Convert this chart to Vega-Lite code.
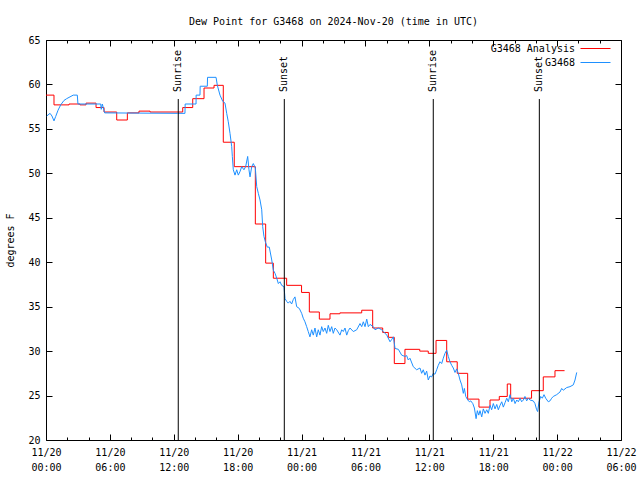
{
"$schema": "https://vega.github.io/schema/vega-lite/v6.json",
"width": 575, "height": 400,
"autosize": {"type": "none"},
"padding": {"left": 46, "top": 40, "right": 19, "bottom": 40},
"background": "white",
"config": {
 "view": {"stroke": "black", "strokeWidth": 1},
 "font": "DejaVu Sans Mono",
 "axis": {"domain": false, "grid": false, "tickColor": "black", "tickWidth": 1, "labelColor": "black", "labelFont": "DejaVu Sans Mono", "labelFontSize": 10, "titleFont": "DejaVu Sans Mono", "titleFontSize": 10, "titleFontWeight": "normal", "titleColor": "black"}
},
"title": {"text": "Dew Point for G3468 on 2024-Nov-20 (time in UTC)", "font": "DejaVu Sans Mono", "fontSize": 10, "fontWeight": "normal", "color": "black", "offset": 8},
"datasets": {
 "analysis": [
  {"h":0,"v":58.8,"series":"G3468 Analysis"},{"h":0.75,"v":57.7,"series":"G3468 Analysis"},{"h":2.16,"v":57.8,"series":"G3468 Analysis"},{"h":3.19,"v":57.7,"series":"G3468 Analysis"},{"h":3.76,"v":57.9,"series":"G3468 Analysis"},{"h":4.7,"v":57.4,"series":"G3468 Analysis"},{"h":5.45,"v":56.9,"series":"G3468 Analysis"},{"h":6.64,"v":56.0,"series":"G3468 Analysis"},{"h":7.64,"v":56.8,"series":"G3468 Analysis"},{"h":8.73,"v":57.0,"series":"G3468 Analysis"},{"h":9.77,"v":56.9,"series":"G3468 Analysis"},{"h":12.84,"v":57.4,"series":"G3468 Analysis"},{"h":13.78,"v":58.4,"series":"G3468 Analysis"},{"h":14.84,"v":59.6,"series":"G3468 Analysis"},{"h":15.78,"v":59.9,"series":"G3468 Analysis"},{"h":16.65,"v":53.5,"series":"G3468 Analysis"},{"h":17.68,"v":50.75,"series":"G3468 Analysis"},{"h":19.66,"v":44.3,"series":"G3468 Analysis"},{"h":20.63,"v":39.9,"series":"G3468 Analysis"},{"h":21.35,"v":38.2,"series":"G3468 Analysis"},{"h":22.6,"v":37.4,"series":"G3468 Analysis"},{"h":24.0,"v":36.6,"series":"G3468 Analysis"},{"h":24.73,"v":34.4,"series":"G3468 Analysis"},{"h":25.67,"v":33.6,"series":"G3468 Analysis"},{"h":26.67,"v":34.2,"series":"G3468 Analysis"},{"h":27.6,"v":34.3,"series":"G3468 Analysis"},{"h":29.65,"v":34.6,"series":"G3468 Analysis"},{"h":30.68,"v":32.6,"series":"G3468 Analysis"},{"h":31.62,"v":32.1,"series":"G3468 Analysis"},{"h":32.15,"v":31.55,"series":"G3468 Analysis"},{"h":32.71,"v":28.6,"series":"G3468 Analysis"},{"h":33.71,"v":30.2,"series":"G3468 Analysis"},{"h":35.1,"v":30.0,"series":"G3468 Analysis"},{"h":35.9,"v":29.75,"series":"G3468 Analysis"},{"h":36.63,"v":31.2,"series":"G3468 Analysis"},{"h":37.63,"v":28.8,"series":"G3468 Analysis"},{"h":38.62,"v":27.5,"series":"G3468 Analysis"},{"h":39.6,"v":24.6,"series":"G3468 Analysis"},{"h":40.66,"v":23.7,"series":"G3468 Analysis"},{"h":41.7,"v":24.5,"series":"G3468 Analysis"},{"h":42.57,"v":24.9,"series":"G3468 Analysis"},{"h":43.32,"v":26.3,"series":"G3468 Analysis"},{"h":43.64,"v":24.7,"series":"G3468 Analysis"},{"h":45.6,"v":25.55,"series":"G3468 Analysis"},{"h":46.7,"v":27.1,"series":"G3468 Analysis"},{"h":47.8,"v":27.8,"series":"G3468 Analysis"},{"h":48.7,"v":27.8,"series":"G3468 Analysis"}
 ],
 "obs": [
  {"h":0.07,"v":56.45,"series":"G3468"},{"h":0.38,"v":56.75,"series":"G3468"},{"h":0.56,"v":56.45,"series":"G3468"},{"h":0.75,"v":55.9,"series":"G3468"},{"h":0.91,"v":56.4,"series":"G3468"},{"h":1.13,"v":57.1,"series":"G3468"},{"h":1.38,"v":57.7,"series":"G3468"},{"h":1.69,"v":58.2,"series":"G3468"},{"h":1.94,"v":58.4,"series":"G3468"},{"h":2.56,"v":58.8,"series":"G3468"},{"h":2.94,"v":58.8,"series":"G3468"},{"h":3.0,"v":57.8,"series":"G3468"},{"h":5.14,"v":57.8,"series":"G3468"},{"h":5.19,"v":57.2,"series":"G3468"},{"h":5.29,"v":57.8,"series":"G3468"},{"h":5.51,"v":56.8,"series":"G3468"},{"h":12.33,"v":56.75,"series":"G3468"},{"h":13.05,"v":56.75,"series":"G3468"},{"h":13.07,"v":57.8,"series":"G3468"},{"h":14.09,"v":57.8,"series":"G3468"},{"h":14.1,"v":58.8,"series":"G3468"},{"h":14.46,"v":58.8,"series":"G3468"},{"h":14.48,"v":59.8,"series":"G3468"},{"h":15.15,"v":59.8,"series":"G3468"},{"h":15.17,"v":60.8,"series":"G3468"},{"h":15.97,"v":60.8,"series":"G3468"},{"h":16.09,"v":59.9,"series":"G3468"},{"h":16.34,"v":58.8,"series":"G3468"},{"h":16.6,"v":58.1,"series":"G3468"},{"h":16.81,"v":57.9,"series":"G3468"},{"h":16.97,"v":56.75,"series":"G3468"},{"h":17.12,"v":55.8,"series":"G3468"},{"h":17.28,"v":54.5,"series":"G3468"},{"h":17.44,"v":53.0,"series":"G3468"},{"h":17.5,"v":51.9,"series":"G3468"},{"h":17.59,"v":50.4,"series":"G3468"},{"h":17.75,"v":49.8,"series":"G3468"},{"h":17.91,"v":50.4,"series":"G3468"},{"h":18.06,"v":49.8,"series":"G3468"},{"h":18.22,"v":50.2,"series":"G3468"},{"h":18.38,"v":50.75,"series":"G3468"},{"h":18.59,"v":50.4,"series":"G3468"},{"h":18.75,"v":50.75,"series":"G3468"},{"h":18.94,"v":51.9,"series":"G3468"},{"h":19.06,"v":50.4,"series":"G3468"},{"h":19.16,"v":49.6,"series":"G3468"},{"h":19.32,"v":50.75,"series":"G3468"},{"h":19.47,"v":51.1,"series":"G3468"},{"h":19.66,"v":50.6,"series":"G3468"},{"h":19.79,"v":48.5,"series":"G3468"},{"h":19.94,"v":47.75,"series":"G3468"},{"h":20.1,"v":47.0,"series":"G3468"},{"h":20.26,"v":45.9,"series":"G3468"},{"h":20.35,"v":44.0,"series":"G3468"},{"h":20.47,"v":42.9,"series":"G3468"},{"h":20.6,"v":42.3,"series":"G3468"},{"h":20.78,"v":41.7,"series":"G3468"},{"h":20.97,"v":41.7,"series":"G3468"},{"h":21.2,"v":40.25,"series":"G3468"},{"h":21.35,"v":39.1,"series":"G3468"},{"h":21.51,"v":38.75,"series":"G3468"},{"h":21.67,"v":38.2,"series":"G3468"},{"h":21.82,"v":37.6,"series":"G3468"},{"h":21.98,"v":37.8,"series":"G3468"},{"h":22.13,"v":37.4,"series":"G3468"},{"h":22.35,"v":37.25,"series":"G3468"},{"h":22.45,"v":35.9,"series":"G3468"},{"h":22.6,"v":35.6,"series":"G3468"},{"h":22.75,"v":35.4,"series":"G3468"},{"h":22.91,"v":35.6,"series":"G3468"},{"h":23.07,"v":35.3,"series":"G3468"},{"h":23.22,"v":35.8,"series":"G3468"},{"h":23.38,"v":36.1,"series":"G3468"},{"h":23.54,"v":35.0,"series":"G3468"},{"h":23.79,"v":34.8,"series":"G3468"},{"h":24.01,"v":34.25,"series":"G3468"},{"h":24.16,"v":33.7,"series":"G3468"},{"h":24.32,"v":33.3,"series":"G3468"},{"h":24.48,"v":32.75,"series":"G3468"},{"h":24.63,"v":32.2,"series":"G3468"},{"h":24.79,"v":31.6,"series":"G3468"},{"h":24.95,"v":32.4,"series":"G3468"},{"h":25.1,"v":31.8,"series":"G3468"},{"h":25.26,"v":32.6,"series":"G3468"},{"h":25.42,"v":31.6,"series":"G3468"},{"h":25.57,"v":32.4,"series":"G3468"},{"h":25.73,"v":31.8,"series":"G3468"},{"h":25.89,"v":32.75,"series":"G3468"},{"h":26.04,"v":32.2,"series":"G3468"},{"h":26.2,"v":32.6,"series":"G3468"},{"h":26.36,"v":32.0,"series":"G3468"},{"h":26.51,"v":32.9,"series":"G3468"},{"h":26.67,"v":32.2,"series":"G3468"},{"h":26.83,"v":32.75,"series":"G3468"},{"h":26.98,"v":32.0,"series":"G3468"},{"h":27.14,"v":32.6,"series":"G3468"},{"h":27.3,"v":32.4,"series":"G3468"},{"h":27.61,"v":31.8,"series":"G3468"},{"h":27.77,"v":32.4,"series":"G3468"},{"h":27.92,"v":32.2,"series":"G3468"},{"h":28.08,"v":32.6,"series":"G3468"},{"h":28.24,"v":31.8,"series":"G3468"},{"h":28.39,"v":32.3,"series":"G3468"},{"h":28.55,"v":32.6,"series":"G3468"},{"h":28.86,"v":32.2,"series":"G3468"},{"h":29.18,"v":32.4,"series":"G3468"},{"h":29.49,"v":33.1,"series":"G3468"},{"h":29.65,"v":32.75,"series":"G3468"},{"h":29.8,"v":33.3,"series":"G3468"},{"h":29.96,"v":32.75,"series":"G3468"},{"h":30.12,"v":33.6,"series":"G3468"},{"h":30.27,"v":32.75,"series":"G3468"},{"h":30.43,"v":33.0,"series":"G3468"},{"h":30.74,"v":32.75,"series":"G3468"},{"h":30.9,"v":32.4,"series":"G3468"},{"h":31.21,"v":32.6,"series":"G3468"},{"h":31.53,"v":32.4,"series":"G3468"},{"h":31.68,"v":32.2,"series":"G3468"},{"h":32.0,"v":31.8,"series":"G3468"},{"h":32.31,"v":31.05,"series":"G3468"},{"h":32.46,"v":31.3,"series":"G3468"},{"h":32.62,"v":31.6,"series":"G3468"},{"h":32.78,"v":30.3,"series":"G3468"},{"h":33.09,"v":30.2,"series":"G3468"},{"h":33.4,"v":29.55,"series":"G3468"},{"h":33.71,"v":29.4,"series":"G3468"},{"h":33.87,"v":29.5,"series":"G3468"},{"h":34.02,"v":29.0,"series":"G3468"},{"h":34.18,"v":29.2,"series":"G3468"},{"h":34.49,"v":28.25,"series":"G3468"},{"h":34.81,"v":27.9,"series":"G3468"},{"h":35.12,"v":28.1,"series":"G3468"},{"h":35.28,"v":27.5,"series":"G3468"},{"h":35.43,"v":27.9,"series":"G3468"},{"h":35.59,"v":27.3,"series":"G3468"},{"h":35.75,"v":27.75,"series":"G3468"},{"h":35.9,"v":26.75,"series":"G3468"},{"h":36.06,"v":27.2,"series":"G3468"},{"h":36.22,"v":27.1,"series":"G3468"},{"h":36.37,"v":27.5,"series":"G3468"},{"h":36.53,"v":27.4,"series":"G3468"},{"h":36.69,"v":27.9,"series":"G3468"},{"h":36.84,"v":28.4,"series":"G3468"},{"h":37.0,"v":28.8,"series":"G3468"},{"h":37.16,"v":28.6,"series":"G3468"},{"h":37.31,"v":29.2,"series":"G3468"},{"h":37.47,"v":29.75,"series":"G3468"},{"h":37.63,"v":30.1,"series":"G3468"},{"h":37.78,"v":29.4,"series":"G3468"},{"h":37.94,"v":28.8,"series":"G3468"},{"h":38.1,"v":28.4,"series":"G3468"},{"h":38.25,"v":28.1,"series":"G3468"},{"h":38.41,"v":27.6,"series":"G3468"},{"h":38.57,"v":28.0,"series":"G3468"},{"h":38.72,"v":27.5,"series":"G3468"},{"h":38.88,"v":26.75,"series":"G3468"},{"h":39.04,"v":26.2,"series":"G3468"},{"h":39.19,"v":25.25,"series":"G3468"},{"h":39.29,"v":25.8,"series":"G3468"},{"h":39.42,"v":24.9,"series":"G3468"},{"h":39.61,"v":24.5,"series":"G3468"},{"h":39.76,"v":24.3,"series":"G3468"},{"h":39.89,"v":24.4,"series":"G3468"},{"h":40.08,"v":24.1,"series":"G3468"},{"h":40.23,"v":23.6,"series":"G3468"},{"h":40.39,"v":22.4,"series":"G3468"},{"h":40.51,"v":23.3,"series":"G3468"},{"h":40.64,"v":22.8,"series":"G3468"},{"h":40.76,"v":23.3,"series":"G3468"},{"h":40.92,"v":22.6,"series":"G3468"},{"h":41.07,"v":23.5,"series":"G3468"},{"h":41.23,"v":23.0,"series":"G3468"},{"h":41.39,"v":23.4,"series":"G3468"},{"h":41.54,"v":23.0,"series":"G3468"},{"h":41.7,"v":23.9,"series":"G3468"},{"h":41.85,"v":23.4,"series":"G3468"},{"h":42.01,"v":24.1,"series":"G3468"},{"h":42.17,"v":23.5,"series":"G3468"},{"h":42.33,"v":24.0,"series":"G3468"},{"h":42.48,"v":23.4,"series":"G3468"},{"h":42.64,"v":23.9,"series":"G3468"},{"h":42.8,"v":24.3,"series":"G3468"},{"h":42.95,"v":23.7,"series":"G3468"},{"h":43.11,"v":24.2,"series":"G3468"},{"h":43.27,"v":24.7,"series":"G3468"},{"h":43.42,"v":24.3,"series":"G3468"},{"h":43.58,"v":25.1,"series":"G3468"},{"h":43.74,"v":24.3,"series":"G3468"},{"h":43.89,"v":24.7,"series":"G3468"},{"h":44.05,"v":24.1,"series":"G3468"},{"h":44.21,"v":24.5,"series":"G3468"},{"h":44.36,"v":24.3,"series":"G3468"},{"h":44.52,"v":24.7,"series":"G3468"},{"h":44.67,"v":24.3,"series":"G3468"},{"h":44.83,"v":24.5,"series":"G3468"},{"h":44.98,"v":24.9,"series":"G3468"},{"h":45.14,"v":24.4,"series":"G3468"},{"h":45.3,"v":24.7,"series":"G3468"},{"h":45.45,"v":24.5,"series":"G3468"},{"h":45.76,"v":24.4,"series":"G3468"},{"h":45.92,"v":24.1,"series":"G3468"},{"h":46.08,"v":23.4,"series":"G3468"},{"h":46.17,"v":23.2,"series":"G3468"},{"h":46.3,"v":24.3,"series":"G3468"},{"h":46.46,"v":24.9,"series":"G3468"},{"h":46.61,"v":24.7,"series":"G3468"},{"h":46.77,"v":25.1,"series":"G3468"},{"h":46.93,"v":24.7,"series":"G3468"},{"h":47.17,"v":24.3,"series":"G3468"},{"h":47.33,"v":24.4,"series":"G3468"},{"h":47.49,"v":24.7,"series":"G3468"},{"h":47.64,"v":24.9,"series":"G3468"},{"h":47.96,"v":25.1,"series":"G3468"},{"h":48.27,"v":25.4,"series":"G3468"},{"h":48.43,"v":25.8,"series":"G3468"},{"h":48.58,"v":25.6,"series":"G3468"},{"h":48.9,"v":25.9,"series":"G3468"},{"h":49.21,"v":26.0,"series":"G3468"},{"h":49.52,"v":26.2,"series":"G3468"},{"h":49.68,"v":26.75,"series":"G3468"},{"h":49.84,"v":27.6,"series":"G3468"}
 ],
 "sun": [
  {"h":12.42,"event":"Sunrise"},{"h":22.38,"event":"Sunset"},{"h":36.37,"event":"Sunrise"},{"h":46.33,"event":"Sunset"}
 ]
},
"layer": [
 {
  "data": {"name": "analysis"},
  "mark": {"type": "line", "interpolate": "step-after", "strokeWidth": 1},
  "encoding": {
   "x": {"field": "h", "type": "quantitative", "scale": {"domain": [0, 54], "nice": false, "zero": false},
    "axis": {"orient": "bottom", "title": null, "values": [0,2,4,6,8,10,12,14,16,18,20,22,24,26,28,30,32,34,36,38,40,42,44,46,48,50,52,54],
     "tickSize": {"condition": {"test": "datum.value % 6 === 0", "value": -6}, "value": -3},
     "labelExpr": "datum.value % 6 === 0 ? [datum.value < 24 ? '11/20' : datum.value < 48 ? '11/21' : '11/22', ((datum.value % 24) < 10 ? '0' : '') + (datum.value % 24) + ':00'] : ''",
     "labelPadding": 13, "labelBaseline": "top", "labelLineHeight": 15, "labelFlush": false, "labelOverlap": false}},
   "y": {"field": "v", "type": "quantitative", "scale": {"domain": [20, 65], "nice": false, "zero": false},
    "axis": {"orient": "left", "title": "degrees F", "values": [20,25,30,35,40,45,50,55,60,65], "tickSize": -6, "labelPadding": 12, "titlePadding": 12}},
   "color": {"field": "series", "type": "nominal",
    "scale": {"domain": ["G3468 Analysis", "G3468"], "range": ["#ff0000", "#1e90ff"]},
    "legend": {"orient": "none", "legendX": 543, "legendY": 2, "title": null, "symbolType": "M-2.5,0H2.5", "symbolSize": 144, "symbolStrokeWidth": 1, "symbolFillColor": "transparent", "labelAlign": "right", "labelOffset": -27, "labelFont": "DejaVu Sans Mono", "labelFontSize": 10, "labelColor": "black", "rowPadding": 2}}
  }
 },
 {
  "data": {"name": "obs"},
  "mark": {"type": "line", "strokeWidth": 1},
  "encoding": {
   "x": {"field": "h", "type": "quantitative",
    "axis": {"orient": "top", "title": null, "labels": false, "values": [0,2,4,6,8,10,12,14,16,18,20,22,24,26,28,30,32,34,36,38,40,42,44,46,48,50,52,54],
     "tickSize": {"condition": {"test": "datum.value % 6 === 0", "value": -6}, "value": -3}}},
   "y": {"field": "v", "type": "quantitative",
    "axis": {"orient": "right", "title": null, "labels": false, "values": [20,25,30,35,40,45,50,55,60,65], "tickSize": -6}},
   "color": {"field": "series", "type": "nominal"}
  }
 },
 {
  "data": {"name": "sun"},
  "mark": {"type": "rule", "color": "black", "strokeWidth": 1},
  "encoding": {
   "x": {"field": "h", "type": "quantitative", "axis": null},
   "y": {"datum": 20, "type": "quantitative", "axis": null},
   "y2": {"datum": 58.36}
  }
 },
 {
  "data": {"name": "sun"},
  "mark": {"type": "text", "angle": 270, "align": "left", "baseline": "middle", "font": "DejaVu Sans Mono", "fontSize": 10, "color": "black"},
  "encoding": {
   "x": {"field": "h", "type": "quantitative", "axis": null},
   "y": {"datum": 59.15, "type": "quantitative", "axis": null},
   "text": {"field": "event"}
  }
 }
],
"resolve": {"axis": {"x": "independent", "y": "independent"}}
}
